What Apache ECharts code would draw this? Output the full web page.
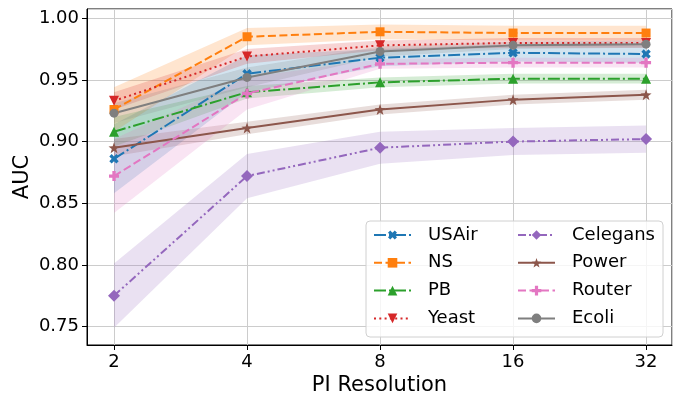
<!DOCTYPE html>
<html>
<head>
<meta charset="utf-8">
<script src="https://cdn.jsdelivr.net/npm/echarts@6/dist/echarts.min.js"></script>
<style>
html,body{margin:0;padding:0;background:#fff;}
#main{width:681px;height:394px;}
</style>
</head>
<body>
<div id="main"></div>
<script>
/*------------数据-------------*/
var resolutions = [2, 4, 8, 16, 32];
var names = ['USAir', 'NS', 'PB', 'Yeast', 'Celegans', 'Power', 'Router', 'Ecoli'];

var usair    = [0.886, 0.955, 0.968, 0.972, 0.971];
var ns       = [0.926, 0.985, 0.989, 0.988, 0.988];
var pb       = [0.908, 0.940, 0.948, 0.951, 0.951];
var yeast    = [0.933, 0.969, 0.978, 0.980, 0.980];
var celegans = [0.775, 0.872, 0.895, 0.900, 0.902];
var power    = [0.895, 0.911, 0.926, 0.934, 0.938];
var router   = [0.872, 0.939, 0.963, 0.964, 0.964];
var ecoli    = [0.923, 0.952, 0.973, 0.978, 0.979];

// 标准差(阴影带)
var usairStd    = [0.028, 0.015, 0.007, 0.007, 0.007];
var nsStd       = [0.018, 0.007, 0.006, 0.006, 0.006];
var pbStd       = [0.012, 0.005, 0.004, 0.004, 0.004];
var yeastStd    = [0.007, 0.006, 0.004, 0.004, 0.004];
var celegansStd = [0.026, 0.018, 0.013, 0.011, 0.011];
var powerStd    = [0.007, 0.005, 0.004, 0.004, 0.004];
var routerStd   = [0.030, 0.013, 0.004, 0.004, 0.004];
var ecoliStd    = [0.008, 0.008, 0.004, 0.003, 0.003];

var yTicks = [0.75, 0.80, 0.85, 0.90, 0.95, 1.00];

/*------------样式-------------*/
var plusPath = 'path://M-1,-3L1,-3L1,-1L3,-1L3,1L1,1L1,3L-1,3L-1,1L-3,1L-3,-1L-1,-1Z';
var starPath = 'path://M0,-10L2.35,-3.24L9.51,-3.09L3.8,1.24L5.88,8.09L0,4L-5.88,8.09L-3.8,1.24L-9.51,-3.09L-2.35,-3.24Z';

var lines = [
	{name:'USAir',    vals:usair,    std:usairStd,    color:'#1f77b4', dash:[12,3,2,3],     symbol:plusPath,   rotate:45,  size:10},
	{name:'NS',       vals:ns,       std:nsStd,       color:'#ff7f0e', dash:[8,3.5],        symbol:'rect',     rotate:0,   size:9},
	{name:'PB',       vals:pb,       std:pbStd,       color:'#2ca02c', dash:[12,3,2,3],     symbol:'triangle', rotate:0,   size:10},
	{name:'Yeast',    vals:yeast,    std:yeastStd,    color:'#d62728', dash:[2,3.3],        symbol:'triangle', rotate:180, size:10},
	{name:'Celegans', vals:celegans, std:celegansStd, color:'#9467bd', dash:[8,3,2,3,2,3],  symbol:'diamond',  rotate:0,   size:12},
	{name:'Power',    vals:power,    std:powerStd,    color:'#8c564b', dash:'solid',        symbol:starPath,   rotate:0,   size:11},
	{name:'Router',   vals:router,   std:routerStd,   color:'#e377c2', dash:[8,3.5],        symbol:plusPath,   rotate:0,   size:10},
	{name:'Ecoli',    vals:ecoli,    std:ecoliStd,    color:'#7f7f7f', dash:'solid',        symbol:'circle',   rotate:0,   size:9}
];

var series = [];
// 先画阴影带
lines.forEach(function(l){
	var lo = l.vals.map(function(v,i){ return v - l.std[i]; });
	var hi = l.vals.map(function(v,i){ return v + l.std[i]; });
	series.push({
		name: l.name + ' band',
		type: 'custom',
		silent: true,
		clip: true,
		z: 1,
		encode: {x:0, y:[1,2]},
		data: resolutions.map(function(r,i){ return [r, lo[i], hi[i]]; }),
		renderItem: function(params, api){
			if(params.dataIndex !== 0){
				return null;
			}
			var pts = [];
			for(var i=0;i<resolutions.length;i++){
				pts.push(api.coord([resolutions[i], hi[i]]));
			}
			for(var j=resolutions.length-1;j>=0;j--){
				pts.push(api.coord([resolutions[j], lo[j]]));
			}
			return {
				type:'polygon',
				shape:{points:pts},
				style:{fill:l.color, opacity:0.2}
			};
		}
	});
});
// 折线
lines.forEach(function(l){
	series.push({
		name: l.name,
		type: 'line',
		z: 3,
		symbol: l.symbol,
		symbolRotate: l.rotate,
		symbolSize: l.size,
		showAllSymbol: true,
		animation: false,
		lineStyle: {color:l.color, width:2, type:l.dash},
		itemStyle: {color:l.color},
		data: resolutions.map(function(r,i){ return [r, l.vals[i]]; })
	});
});

var legendBase = {
	orient:'vertical',
	padding:0,
	itemWidth:37,
	itemHeight:12,
	itemGap:9.8,
	textStyle:{fontSize:18, color:'#000', fontFamily:'DejaVu Sans', lineHeight:18, padding:[0,0,0,12]}
};

var chart = echarts.init(document.getElementById('main'));
chart.setOption({
	animation:false,
	textStyle:{fontFamily:'DejaVu Sans'},
	grid:{left:87, right:9, top:9, bottom:49, outerBoundsMode:'none', containLabel:false,
		show:true, borderColor:'#000', borderWidth:1, backgroundColor:'transparent'},
	graphic:[{
		type:'rect',
		z:5,
		shape:{x:366, y:221, width:297, height:116, r:4},
		style:{fill:'rgba(255,255,255,0.8)', stroke:'#d0d0d0', lineWidth:1}
	}],
	legend:[
		Object.assign({}, legendBase, {left:373, top:226, data:names.slice(0,4), z:6}),
		Object.assign({}, legendBase, {left:517, top:226, data:names.slice(4), z:6})
	],
	xAxis:{
		type:'log',
		logBase:2,
		min:1.7374,
		max:36.63,
		name:'PI Resolution',
		nameLocation:'middle',
		nameGap:30,
		nameMoveOverlap:false,
		nameTextStyle:{fontSize:21, color:'#000'},
		axisLine:{show:true, lineStyle:{color:'#000', width:1}},
		axisTick:{show:true, inside:false, length:5, lineStyle:{color:'#000'}},
		axisLabel:{fontSize:18, color:'#000', margin:8, showMinLabel:false, showMaxLabel:false,
			formatter:function(v){ return resolutions.indexOf(Math.round(v)) >= 0 ? String(Math.round(v)) : ''; }},
		splitLine:{show:true, lineStyle:{color:'#cccccc', width:1}},
		minorTick:{show:false}
	},
	yAxis:{
		type:'value',
		min:0.735,
		max:1.0075,
		splitNumber:5,
		name:'AUC',
		nameLocation:'middle',
		nameGap:54,
		nameMoveOverlap:false,
		nameTextStyle:{fontSize:21, color:'#000'},
		axisLine:{show:true, lineStyle:{color:'#000', width:1}},
		axisTick:{show:true, length:5, lineStyle:{color:'#000'}},
		axisLabel:{fontSize:18, color:'#000', margin:8, showMinLabel:false, showMaxLabel:false,
			formatter:function(v){
				for(var i=0;i<yTicks.length;i++){
					if(Math.abs(yTicks[i]-v) < 1e-6){ return yTicks[i].toFixed(2); }
				}
				return '';
			}},
		splitLine:{show:true, lineStyle:{color:'#cccccc', width:1}}
	},
	series:series
});
</script>
</body>
</html>
